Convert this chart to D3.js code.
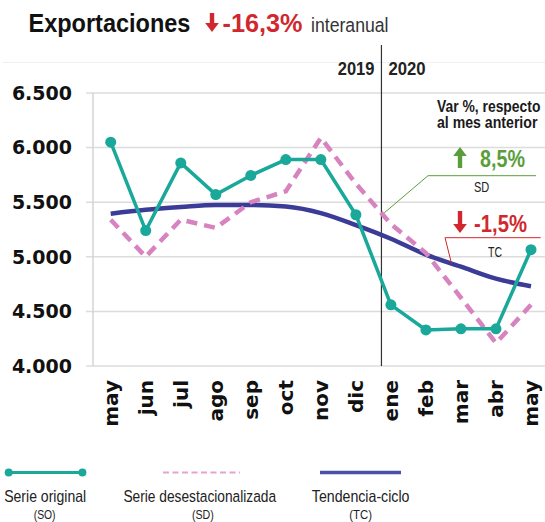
<!DOCTYPE html>
<html lang="es">
<head>
<meta charset="utf-8">
<title>Exportaciones</title>
<script src="https://d3js.org/d3.v7.min.js"></script>
<style>
  body { margin: 0; background: #fff; }
  .axis { font-family: 'DejaVu Sans', sans-serif; font-weight: bold; fill: #111; }
</style>
</head>
<body>
<script>
// datos
var months = ["may", "jun", "jul", "ago", "sep", "oct", "nov", "dic", "ene", "feb", "mar", "abr", "may"];
var serieOriginal = [6050, 5240, 5860, 5570, 5745, 5890, 5890, 5385, 4560, 4330, 4340, 4340, 5065];
var serieDesest   = [5340, 5000, 5340, 5265, 5500, 5600, 6090, 5670, 5300, 5035, 4625, 4210, 4560];
var serieTC       = [5395, 5430, 5455, 5475, 5475, 5460, 5400, 5290, 5165, 5020, 4910, 4800, 4730];
var yTicks = [4000, 4500, 5000, 5500, 6000, 6500];
var years = ["2019", "2020"];

var width = 545, height = 522;
var teal = "#19a899", pink = "#d683bf", blue = "#3b3b98", red = "#d0282e", green = "#5a9e3c";

var svg = d3.select("body").append("svg")
    .attr("width", width).attr("height", height);

var x = d3.scaleLinear().domain([0, 12]).range([110.7, 531]);
var y = d3.scaleLinear().domain([4000, 6500]).range([366, 93]);
var fmt = function(d) { return d3.format(",")(d).replace(",", "."); };

// texto estrecho: Liberation Sans comprimido en horizontal hasta el ancho del original
function narrow(str, x0, y0, size, w, opts) {
  opts = opts || {};
  var t = svg.append("text")
    .attr("font-family", "'Liberation Sans', Arial, sans-serif")
    .attr("font-weight", opts.bold ? "bold" : "normal")
    .attr("font-size", size).attr("fill", opts.color || "#222")
    .attr("x", 0).attr("y", 0)
    .text(str);
  var natural = t.node().getComputedTextLength();
  t.attr("transform", "translate(" + x0 + "," + y0 + ") scale(" + (w / natural) + ",1)");
  return t;
}

// marco superior tenue
svg.append("line").attr("x1", 3).attr("x2", width).attr("y1", 62.5).attr("y2", 62.5)
    .attr("stroke", "#f0f0f0").attr("stroke-width", 1);

// rejilla
svg.append("g").selectAll("line").data(yTicks).enter().append("line")
    .attr("x1", 86).attr("x2", width)
    .attr("y1", function(d) { return y(d); }).attr("y2", function(d) { return y(d); })
    .attr("stroke", "#dcdcdc").attr("stroke-width", 1.5);
svg.append("line").attr("x1", 93).attr("x2", 93).attr("y1", y(6500)).attr("y2", y(4000))
    .attr("stroke", "#d4d4d4").attr("stroke-width", 1.5);

svg.append("g").selectAll("text").data(yTicks).enter().append("text")
    .attr("class", "axis").attr("font-size", 19)
    .attr("x", 72).attr("y", function(d) { return y(d); }).attr("dy", "0.36em")
    .attr("text-anchor", "end").text(fmt);

// etiquetas de meses
svg.append("g").selectAll("text").data(months).enter().append("text")
    .attr("class", "axis").attr("font-size", 20)
    .attr("transform", function(d, i) { return "translate(" + x(i) + ",380) rotate(-90)"; })
    .attr("dy", "0.36em").attr("text-anchor", "end").text(function(d) { return d; });

// separador de años
var xDiv = x(7.73);
svg.append("line").attr("x1", xDiv).attr("x2", xDiv).attr("y1", 45).attr("y2", y(4000))
    .attr("stroke", "#333").attr("stroke-width", 1.2);
narrow(years[0], xDiv - 43.7, 74.7, 18, 36.7, {bold: true, color: "#222"});
narrow(years[1], xDiv + 7, 74.7, 18, 37.2, {bold: true, color: "#222"});

// lineas
var line = d3.line().x(function(d, i) { return x(i); }).y(function(d) { return y(d); });

svg.append("path").datum(serieTC)
    .attr("d", line.curve(d3.curveMonotoneX))
    .attr("fill", "none").attr("stroke", blue).attr("stroke-width", 4.5);

svg.append("path").datum(serieDesest)
    .attr("d", d3.line().x(function(d, i) { return x(i); }).y(function(d) { return y(d); }))
    .attr("fill", "none").attr("stroke", pink).attr("stroke-width", 4.5)
    .attr("stroke-dasharray", "11,7");

svg.append("path").datum(serieOriginal)
    .attr("d", d3.line().x(function(d, i) { return x(i); }).y(function(d) { return y(d); }))
    .attr("fill", "none").attr("stroke", teal).attr("stroke-width", 3.5);
svg.append("g").selectAll("circle").data(serieOriginal).enter().append("circle")
    .attr("cx", function(d, i) { return x(i); }).attr("cy", function(d) { return y(d); })
    .attr("r", 5.5).attr("fill", teal);

// anotaciones
narrow("Var %, respecto", 437, 111.7, 16, 103.5, {bold: true, color: "#1a1a1a"});
narrow("al mes anterior", 437, 128, 16, 100.5, {bold: true, color: "#1a1a1a"});

function arrow(cx, top, bottom, up, color) {
  var hw = 6.8, hh = 9, sw = 2.2;
  var p;
  if (up) {
    p = "M" + cx + "," + top + "L" + (cx + hw) + "," + (top + hh) + "L" + (cx + sw) + "," + (top + hh) +
        "L" + (cx + sw) + "," + bottom + "L" + (cx - sw) + "," + bottom + "L" + (cx - sw) + "," + (top + hh) +
        "L" + (cx - hw) + "," + (top + hh) + "Z";
  } else {
    p = "M" + cx + "," + bottom + "L" + (cx + hw) + "," + (bottom - hh) + "L" + (cx + sw) + "," + (bottom - hh) +
        "L" + (cx + sw) + "," + top + "L" + (cx - sw) + "," + top + "L" + (cx - sw) + "," + (bottom - hh) +
        "L" + (cx - hw) + "," + (bottom - hh) + "Z";
  }
  svg.append("path").attr("d", p).attr("fill", color);
}

// SD
var tipSD = 7.75;
var sdAt = serieDesest[7] + (serieDesest[8] - serieDesest[7]) * (tipSD - 7);
svg.append("polyline")
    .attr("points", [[x(tipSD) + 2, y(sdAt) - 1], [428, 175.7], [536, 175.7]].join(" "))
    .attr("fill", "none").attr("stroke", green).attr("stroke-width", 1);
arrow(460, 147, 168, true, green);
narrow("8,5%", 480, 167, 23, 45, {bold: true, color: green});
narrow("SD", 474, 192, 14, 15.3, {color: "#222"});

// TC
var tipTC = 9.73;
var tcAt = serieTC[9] + (serieTC[10] - serieTC[9]) * (tipTC - 9);
svg.append("polyline")
    .attr("points", [[x(tipTC), y(tcAt)], [445, 237.7], [540.7, 237.7]].join(" "))
    .attr("fill", "none").attr("stroke", red).attr("stroke-width", 1);
arrow(460, 211, 233, false, red);
narrow("-1,5%", 474, 231.7, 23, 53, {bold: true, color: red});
narrow("TC", 488, 257, 14, 14, {color: "#222"});

// titulo
narrow("Exportaciones", 28.5, 32, 26, 162, {bold: true, color: "#111"});
arrow(212, 13, 32, false, red);
narrow("-16,3%", 222.5, 32, 26, 80, {bold: true, color: red});
narrow("interanual", 311, 32, 19.5, 77.6, {color: "#333"});

// leyenda
var legendNames = ["Serie original", "Serie desestacionalizada", "Tendencia-ciclo"];
var legendCodes = ["(SO)", "(SD)", "(TC)"];
var nameX = [[4.2, 82], [123.4, 152.9], [311.8, 97.7]];
var codeX = [[33.7, 21.9], [191.9, 21.9], [349.3, 22.7]];
var legendX = [[8.7, 82.4], [163, 240], [320, 401]];
var ly = 472.5;

svg.append("line").attr("x1", legendX[0][0]).attr("x2", legendX[0][1]).attr("y1", ly).attr("y2", ly)
    .attr("stroke", teal).attr("stroke-width", 3);
svg.selectAll(".ldot").data(legendX[0]).enter().append("circle")
    .attr("cx", function(d) { return d; }).attr("cy", ly).attr("r", 4).attr("fill", teal);
svg.append("line").attr("x1", legendX[1][0]).attr("x2", legendX[1][1]).attr("y1", ly).attr("y2", ly)
    .attr("stroke", "#eba2c9").attr("stroke-width", 2).attr("stroke-dasharray", "6,3.5");
svg.append("line").attr("x1", legendX[2][0]).attr("x2", legendX[2][1]).attr("y1", ly).attr("y2", ly)
    .attr("stroke", "#4b50a8").attr("stroke-width", 3.5);

legendNames.forEach(function(d, i) {
  narrow(d, nameX[i][0], 501.5, 16.5, nameX[i][1], {color: "#222"});
});
legendCodes.forEach(function(d, i) {
  narrow(d, codeX[i][0], 519, 13.5, codeX[i][1], {color: "#222"});
});
</script>
</body>
</html>
